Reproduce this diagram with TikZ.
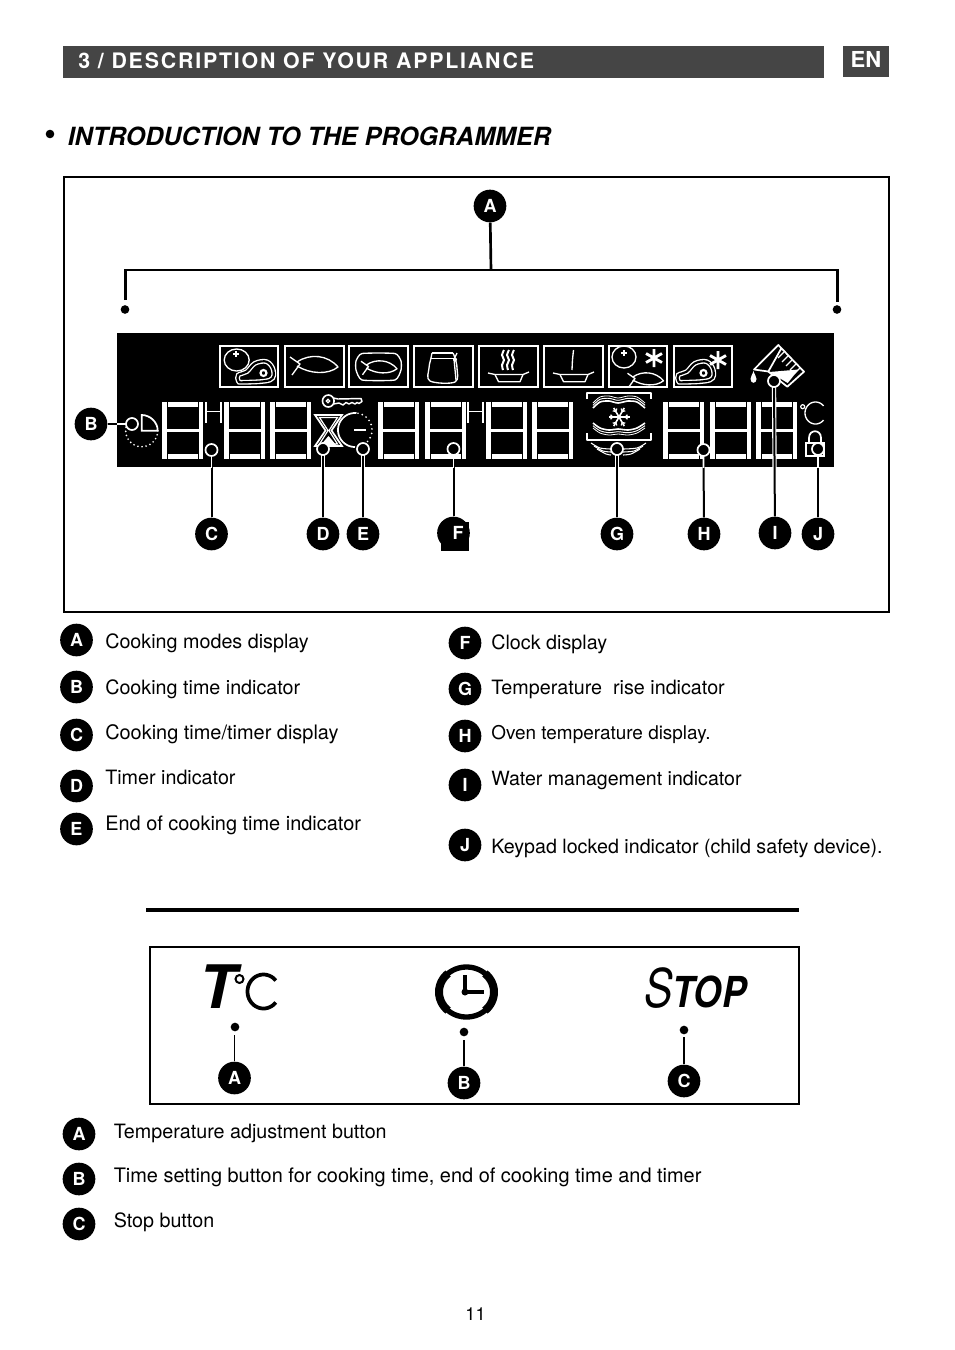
\documentclass[tikz,border=0pt]{standalone}
\usepackage{fontspec}
\setmainfont{TeX Gyre Heros}
\newfontfamily\hdrfont[LetterSpace=8.5]{TeX Gyre Heros}
\usetikzlibrary{calc}
\tikzset{
  x=0.75pt,y=-0.75pt,
  badge/.style={circle,fill=black,text=white,minimum size=24.5pt,inner sep=0pt,font=\bfseries\fontsize{13.5}{13}\selectfont},
  bodytext/.style={anchor=base west,inner sep=0pt,font=\fontsize{14.8}{16}\selectfont},
  target/.style={circle,draw=white,fill=black,line width=1.3pt,minimum size=9pt,inner sep=0pt},
  pin/.style={circle,fill=black,minimum size=6.5pt,inner sep=0pt},
  conn/.style={draw=black,line width=1.5pt},
  wline/.style={draw=white,line width=1.3pt},
  thin icon/.style={draw=white,line width=1pt,line join=round},
  frame/.style={draw=white,line width=1.5pt,fill=black},
  cased/.style={draw=white,line width=3.2pt},
}
\newcommand{\lcddigit}[1]{%
  \fill[white] (#1,402) rectangle ++(4.5,56.5);
  \fill[white] (#1+37,402) rectangle ++(4,56.5);
  \fill[white] (#1+5.5,402) rectangle ++(30.5,5);
  \fill[white] (#1+5.5,453.5) rectangle ++(30.5,5);
  \fill[white] (#1+3,429) rectangle ++(36,3);
}
\newcommand{\fishshape}[2]{%
  \begin{scope}[shift={(#1)},scale=#2]
    \draw[thin icon] (-10,-7) -- (0,0) -- (-8,11);
    \draw[thin icon] (-3,-2) .. controls (10,-11) and (28,-9) .. (38,3) .. controls (28,11) and (10,10) .. (-3,2);
  \end{scope}}
\newcommand{\meatshape}[1]{%
  \begin{scope}[shift={(#1)}]
    \draw[draw=white,double=black,line width=1pt,double distance=1.6pt] plot[smooth cycle,tension=0.6] coordinates {(19.3,36)(19.3,30)(27.7,26.7)(36,18.3)(47.7,16.7)(54.3,25)(51,35)(24.3,37.3)};
    \draw[white,line width=1.6pt] (44.5,28) circle[radius=3];
  \end{scope}}
\newcommand{\dishshape}[1]{%
  \begin{scope}[shift={(#1)}]
    \draw[thin icon] (488,373) -- (495,374.5) -- (523,374.5) -- (529,372);
    \draw[thin icon] (495,374.5) -- (498.5,381.7) -- (520,381.7) -- (523,374.5);
  \end{scope}}
\newcommand{\starshape}[1]{%
  \begin{scope}[shift={(#1)}]
    \draw[white,line width=2.1pt] (0,-9) -- (0,9) (-8,-4.5) -- (8,4.5) (-8,4.5) -- (8,-4.5);
  \end{scope}}
\begin{document}
\begin{tikzpicture}
\useasboundingbox (0,0) rectangle (954,1350);
\fill[white] (0,0) rectangle (954,1350);

% Header
\fill[black!73] (63,46) rectangle (824,78);
\fill[black!73] (843,46) rectangle (889,77);
\node[anchor=base west,inner sep=0pt,text=white,font=\hdrfont\bfseries\fontsize{16}{16}\selectfont] (hdr) at (78,68) {3 / DESCRIPTION OF YOUR APPLIANCE};
\node[anchor=base,inner sep=0pt,text=white,font=\bfseries\fontsize{16.5}{16}\selectfont] (en) at (866,67) {EN};
\fill[black] (50,134) circle[radius=4.3];
\node[anchor=base west,inner sep=0pt,font=\bfseries\itshape\fontsize{18.8}{20}\selectfont] (title) at (67.5,145) {INTRODUCTION TO THE PROGRAMMER};

% Main frame
\draw[black,line width=1.5pt] (64,177) rectangle (889,612);

% Badges and targets positions
\node[badge] (A) at (490,206) {A};
\node[badge] (B) at (91,424) {B};
\node[badge] (C) at (211.5,534) {C};
\node[badge] (D) at (323,534) {D};
\node[badge] (E) at (363,534) {E};
\node[circle,fill=black,minimum size=24.5pt,inner sep=0pt] (F) at (453.5,533) {};
\fill[black] (441,522) rectangle (469,551);
\node[text=white,inner sep=0pt,font=\bfseries\fontsize{13.5}{13}\selectfont] (Fl) at (458,533) {F};
\node[badge] (G) at (617,534) {G};
\node[badge] (H) at (704,534) {H};
\node[badge] (I) at (775,533) {I};
\node[badge] (J) at (818,534) {J};

% Bracket
\coordinate (brM) at (491,270);
\coordinate (brL) at (125.5,270);
\coordinate (brR) at (837.5,270);
\node[pin] (dotL) at (125,309.5) {};
\node[pin] (dotR) at (837,309.5) {};
\coordinate (brLe) at (125.5,300);
\coordinate (brRe) at (837.5,302);
\draw[black,line width=2pt] (A) -- (brM);
\draw[black,line width=2pt] (brLe) -- (brL) -- (brR) -- (brRe);

% Connector skeleton coordinates
\coordinate (tb) at (132,424);
\coordinate (tc) at (211.5,450);
\coordinate (td) at (323,449);
\coordinate (te) at (363,449);
\coordinate (tf) at (453.5,449);
\coordinate (tg) at (617,449);
\coordinate (th) at (703.5,450);
\coordinate (ti) at (774,381);
\coordinate (tj) at (818,449);
\foreach \n/\m in {B/tb,C/tc,D/td,E/te,F/tf,G/tg,H/th,I/ti,J/tj}{\draw[conn] (\n) -- (\m);}

% LCD
\fill[black] (117,333) rectangle (834,467);
\foreach \xx in {162,224,270,378,425,486,532,663,710,756}{\lcddigit{\xx}}
\foreach \xx in {206,468}{
  \draw[white,line width=1.4pt] (\xx,402) -- (\xx,423) (\xx+15,402) -- (\xx+15,423) (\xx,411.5) -- (\xx+15,411.5);
}

% Icon frames
\foreach \a/\b in {219.5/278,284.5/343.5,349/407.5,414/472.5,478.5/537.5,543.5/602.5,608.5/667,673.5/732}{
  \draw[frame] (\a,346) rectangle (\b,386.5);
}
% icon 1
\draw[thin icon] (236.7,360) ellipse[x radius=12.5,y radius=11];
\draw[thin icon] (236,351) -- (236,357) (233,354) -- (239,354);
\meatshape{219,345}
% icon 2
\fishshape{300,364}{1}
% icon 3
\draw[thin icon] plot[smooth cycle,tension=0.3] coordinates {(356,361)(362,353.5)(395,353.5)(401,361)(401,370)(395,380)(362,380)(356,370)};
\fishshape{368.5,366.5}{0.75}
% icon 4 jar
\draw[thin icon] plot[smooth,tension=0.6] coordinates {(432,353)(431,358)(429,368)(430,381)(455,382)(457,368)(455,358)(453,353)};
\draw[thin icon] (432,353) -- (453,353) (431,358.5) -- (455,358.5);
\draw[thin icon] (457,353) -- (454,359) -- (456,380);
\fill[white] (455,359.5) circle[radius=2];
% icon 5 steam
\foreach \xx in {503,508,513}{
  \draw[white,line width=1.5pt] plot[smooth] coordinates {(\xx+1,350)(\xx-1,355)(\xx+1,360)(\xx-1,365)(\xx,370)};
}
\dishshape{0,0}
% icon 6
\draw[thin icon] plot[smooth] coordinates {(573.5,350)(572.5,360)(572,370)};
\dishshape{65,0}
% icon 7
\draw[thin icon] (624,357) ellipse[x radius=12,y radius=11];
\draw[thin icon] (624,350) -- (624,356) (621,353) -- (627,353);
\starshape{654,358}
\fishshape{635,378.5}{0.75}
% icon 8
\meatshape{659,345}
\starshape{718,360}

% Water icon
\draw[thin icon,line width=1.3pt] (768.3,371.5) -- (754,369.5) -- (778.3,345) -- (804,371.7) -- (787.3,386.7) -- (768.3,371.5) -- (781,349);
\fill[white] (769.5,372) -- (798.5,369.5) -- (787.7,383) -- cycle;
\foreach \u/\v in {784/352,788/356,792/360,796/364,800/368}{
  \draw[white,line width=1pt] (\u,\v) -- ++(-6,6);
}
\fill[white] (753.5,371) .. controls (752.5,375) and (750.5,376) .. (750.5,379) .. controls (750.5,384) and (756.5,384) .. (756.5,379) .. controls (756.5,376) and (754.5,375) .. (753.5,371) -- cycle;

% key
\draw[thin icon,line width=1.2pt] (328.3,401) ellipse[x radius=5.8,y radius=6];
\draw[white,line width=1pt] (328,401) circle[radius=1.7];
\draw[thin icon,line width=1.1pt] (333.5,398) -- (338,399) -- (361,398.5) -- (362,401.5) -- (359,403.5) -- (357,402.5) -- (355,404) -- (352,402.5) -- (349,404) -- (346,402.5) -- (343,405) -- (339,403) -- (333.5,404);

% hourglass
\draw[white,line width=1.3pt,line join=miter] (315,415) -- (342,415) -- (331.5,430.5) -- (342,446) -- (315,446) -- (325.5,430.5) -- cycle;
\draw[white,line width=0.9pt] (319.5,417.5) -- (337.5,417.5) -- (329,430.5) -- (337.5,444) -- (319.5,444) -- (328,430.5) -- cycle;
\fill[white] (320,446) -- (328.5,436) -- (337,446) -- cycle;

% end of cooking
\draw[white,line width=1.3pt] plot[domain=90:275,samples=40] ({355+17*cos(\x)},{430+17*sin(\x)});
\draw[white,line width=1.4pt,line cap=round,dash pattern=on 0pt off 3.4pt] plot[domain=-80:80,samples=40] ({355+17*cos(\x)},{430+17*sin(\x)});
\draw[white,line width=1.5pt] (354,430) -- (365.5,430);

% B indicator
\draw[white,line width=1.3pt] (141.7,430.7) -- (141.7,415) .. controls (150,415) and (157.7,422) .. (157.7,430.7) -- cycle;
\draw[white,line width=1.4pt,line cap=round,dash pattern=on 0pt off 3.1pt] plot[domain=0:235,samples=60] ({141.7+16*cos(\x)},{430.7+16*sin(\x)});

% cooling icon
\draw[thin icon,line width=1.2pt] (586.7,399) -- (586.7,393) -- (651,393) -- (651,399);
\draw[thin icon,line width=1.2pt] (586.7,433) -- (586.7,440) -- (651,440) -- (651,433);
\foreach \o/\w in {0/1.2,-2.7/0.7,-5/0.6}{
  \draw[white,line width=\w pt] plot[smooth] coordinates {(593,408+\o)(600,402+\o)(609,401+\o)(618,403+\o)(628,401+\o)(637,402+\o)(645,408+\o)};
}
\foreach \o/\w in {0/1.2,2.7/0.7,5/0.6}{
  \draw[white,line width=\w pt] plot[smooth] coordinates {(593,423+\o)(600,428+\o)(609,430+\o)(618,429+\o)(628,430+\o)(637,428+\o)(645,423+\o)};
}
\foreach \o in {0,3,6}{
  \draw[white,line width=0.8pt] plot[smooth] coordinates {(591+\o,443+\o)(600+\o,448+\o)(611,449+\o)};
  \draw[white,line width=0.8pt] plot[smooth] coordinates {(646-\o,443+\o)(637-\o,448+\o)(623,449+\o)};
}
\begin{scope}[shift={(619,417)}]
  \foreach \ang in {0,60,120,180,240,300}{
    \draw[white,line width=1.2pt] (0,0) -- ({10.5*cos(\ang)},{10.5*sin(\ang)});
    \draw[white,line width=1pt] ({6.5*cos(\ang)+3*cos(\ang+50)},{6.5*sin(\ang)+3*sin(\ang+50)}) -- ({6.5*cos(\ang)},{6.5*sin(\ang)}) -- ({6.5*cos(\ang)+3*cos(\ang-50)},{6.5*sin(\ang)+3*sin(\ang-50)});
  }
\end{scope}

% degrees C
\draw[white,line width=0.9pt] (802.7,406.7) circle[radius=2];
\draw[white,line width=1pt] plot[domain=40:320,samples=40] ({815.5+10.5*cos(\x)},{413+11*sin(\x)});

% lock
\draw[white,line width=1.3pt] (805.7,442.7) rectangle (824,455.7);
\draw[white,line width=1.3pt] (809,442.7) -- (809,438) .. controls (809,429) and (821,429) .. (821,438) -- (821,442.7);

% Connectors in the LCD
\begin{scope}
  \clip (117,333) rectangle (834,467);
  \foreach \n/\m in {D/td,E/te,G/tg,I/ti}{
    \draw[cased] (\n) -- (\m);
    \draw[draw=black,line width=1.5pt] (\n) -- (\m);
  }
  \foreach \n/\m in {B/tb,C/tc,F/tf,H/th,J/tj}{
    \draw[wline] (\n) -- (\m);
  }
\end{scope}
\node[target] (tbn) at (tb) {};
\node[target] (tcn) at (tc) {};
\node[target] (tdn) at (td) {};
\node[target] (ten) at (te) {};
\node[target] (tfn) at (tf) {};
\node[target] (tgn) at (tg) {};
\node[target] (thn) at (th) {};
\node[target] (tin) at (ti) {};
\node[target] (tjn) at (tj) {};

% Legend
\foreach \nm/\lab/\xx/\yy in {la/A/76.5/640,lb/B/76.5/687,lc/C/76.5/735,ld/D/76.5/786,le/E/76.5/829,lf/F/465/643,lg/G/465/689,lh/H/465/736,li/I/465/785,lj/J/465/845,ma/A/79/1134,mb/B/79/1179,mc/C/79/1224}{
  \node[badge] (\nm) at (\xx,\yy) {\lab};
}
\node[bodytext] (ta) at (105,648) {Cooking modes display};
\node[bodytext] (tb2) at (105,694) {Cooking time indicator};
\node[bodytext,font=\fontsize{14.95}{16}\selectfont] (tc2) at (105,739) {Cooking time/timer display};
\node[bodytext] (td2) at (105,784) {Timer indicator};
\node[bodytext,font=\fontsize{14.95}{16}\selectfont] (te2) at (105,830) {End of cooking time indicator};
\node[bodytext] (tf2) at (491,649) {Clock display};
\node[bodytext] (tg2) at (491,694) {Temperature\ \ rise indicator};
\node[bodytext,font=\fontsize{14.2}{16}\selectfont] (th2) at (491,739) {Oven temperature display.};
\node[bodytext,font=\fontsize{14.7}{16}\selectfont] (ti2) at (491,785) {Water management indicator};
\node[bodytext,font=\fontsize{14.75}{16}\selectfont] (tj2) at (491,853) {Keypad locked indicator (child safety device).};

% Divider
\draw[black,line width=2.6pt] (146,910) -- (799,910);

% Button panel
\draw[black,line width=1.5pt] (150,947) rectangle (799,1104);
\node[anchor=base west,inner sep=0pt,font=\bfseries\itshape\fontsize{45}{45}\selectfont] (tT) at (199,1008) {T};
\draw[black,line width=1.5pt] (239.5,979) circle[radius=4];
\draw[black,line width=2.8pt] plot[domain=40:320,samples=40] ({263.5+16*cos(\x)},{991.5+17*sin(\x)});
\draw[black,line width=4pt] plot[domain=0:360,samples=80] ({466.5+27.5*cos(\x)},{992+25*sin(\x)});
\draw[black,line width=6pt] plot[domain=-48:48,samples=20] ({466.5+27.5*cos(\x)},{992+25*sin(\x)});
\draw[black,line width=6pt] plot[domain=132:228,samples=20] ({466.5+27.5*cos(\x)},{992+25*sin(\x)});
\draw[black,line width=2.4pt] (465,975) -- (465,992) -- (484,992);
\fill[black] (465,992) circle[radius=3.5];
\node[anchor=base west,inner sep=0pt,font=\itshape\fontsize{40}{40}\selectfont] (tS) at (644,1007.5) {\scalebox{.8}[1]{S}};
\node[anchor=base west,inner sep=0pt,font=\bfseries\itshape\fontsize{32}{32}\selectfont] (tTOP) at (672.5,1007.5) {\scalebox{.85}[1]{TOP}};
\node[pin] (p1) at (235,1027) {};
\node[pin] (p2) at (464,1032) {};
\node[pin] (p3) at (684,1030) {};
\node[badge] (q1) at (234.5,1078) {A};
\node[badge] (q2) at (464,1083) {B};
\node[badge] (q3) at (684,1081) {C};
\coordinate (c1) at (234.5,1035);
\coordinate (c2) at (464,1040);
\coordinate (c3) at (684,1037);
\draw[black,line width=1.3pt] (q1) -- (c1);
\draw[black,line width=1.3pt] (q2) -- (c2);
\draw[black,line width=1.3pt] (q3) -- (c3);

\node[bodytext] (m1) at (113.5,1138) {Temperature adjustment button};
\node[bodytext,font=\fontsize{14.95}{16}\selectfont] (m2) at (113.5,1182) {Time setting button for cooking time, end of cooking time and timer};
\node[bodytext] (m3) at (113.5,1227) {Stop button};
\node[anchor=base,inner sep=0pt,font=\fontsize{13.5}{14}\selectfont] (pg) at (475.5,1320) {11};
\end{tikzpicture}
\end{document}
